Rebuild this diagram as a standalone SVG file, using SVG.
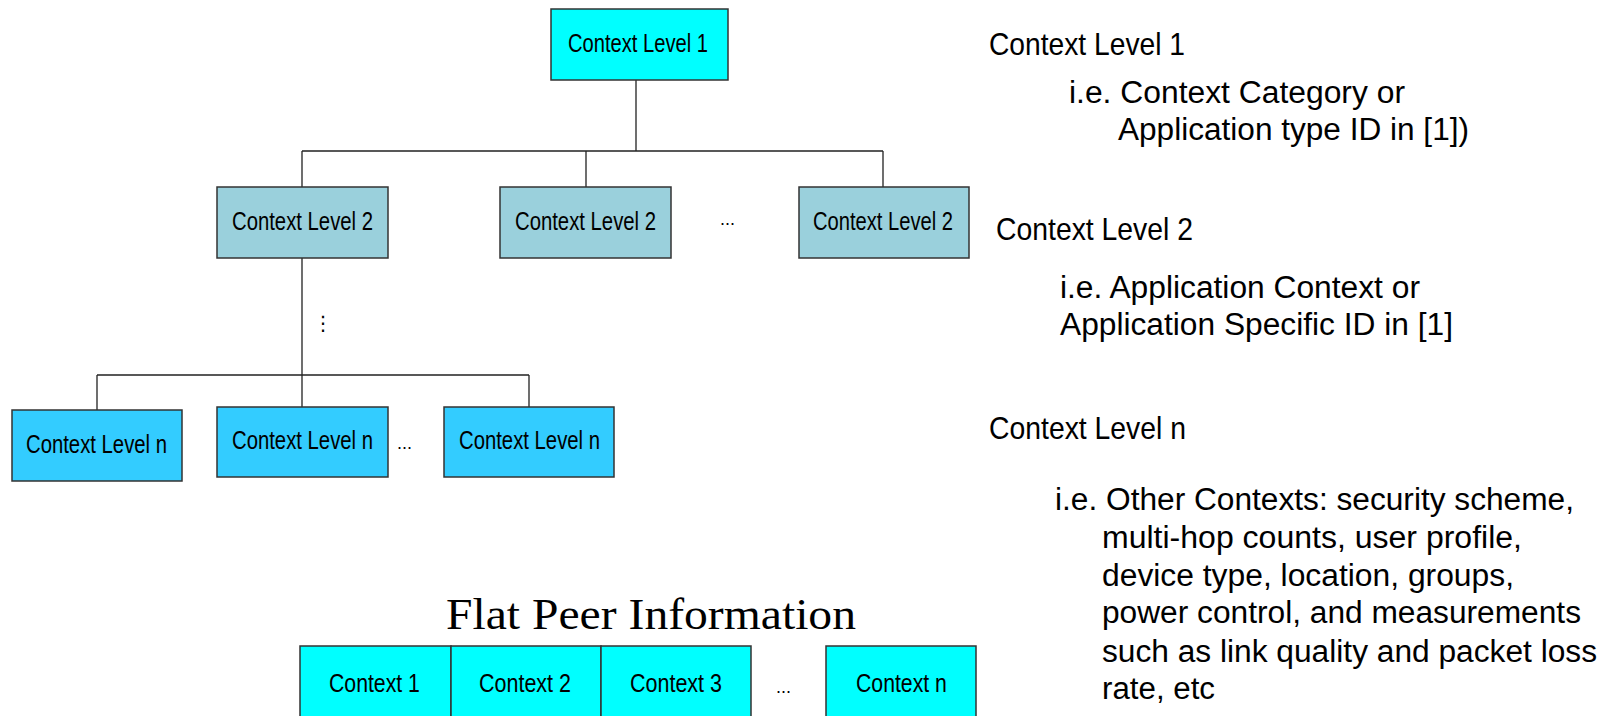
<svg xmlns="http://www.w3.org/2000/svg" width="1606" height="716" viewBox="0 0 1606 716">
<style>
.box{stroke:#333;stroke-width:1.5}
.l1{fill:#00FFFF}
.l2{fill:#9AD0DC}
.ln{fill:#33CCFF}
.lbl{font-family:"Liberation Sans",Arial,sans-serif;font-size:25px;fill:#000}
.side{font-family:"Liberation Sans",Arial,sans-serif;font-size:31px;fill:#000}
.head{font-family:"Liberation Sans",Arial,sans-serif;font-size:32px;fill:#000}
.dots{font-family:"Liberation Sans",Arial,sans-serif;font-size:18px;fill:#000}
.title{font-family:"Liberation Serif","Times New Roman",serif;font-size:44px;fill:#000}
.conn{stroke:#222;stroke-width:1.3;fill:none}
</style>
<g id="connectors">
<path class="conn" d="M636 80V151M302 151H883M302 151V187M586 151V187M883 151V187"/>
<path class="conn" d="M302 258V407M97 375H529M97 375V410M529 375V407"/>
</g>
<g id="level1">
<rect class="box l1" x="551" y="9" width="177" height="71"/>
<text class="lbl" transform="translate(568,52) scale(0.806,1)">Context Level 1</text>
</g>
<g id="level2a">
<rect class="box l2" x="217" y="187" width="171" height="71"/>
<text class="lbl" transform="translate(232,230) scale(0.812,1)">Context Level 2</text>
</g>
<g id="level2b">
<rect class="box l2" x="500" y="187" width="171" height="71"/>
<text class="lbl" transform="translate(515,230) scale(0.812,1)">Context Level 2</text>
</g>
<g id="level2-dots"><text class="dots" x="720" y="225">...</text></g>
<g id="level2c">
<rect class="box l2" x="799" y="187" width="170" height="71"/>
<text class="lbl" transform="translate(813,230) scale(0.806,1)">Context Level 2</text>
</g>
<g id="vdots">
<text x="323" y="330" font-family="DejaVu Sans,sans-serif" font-size="20" text-anchor="middle">⋮</text>
</g>
<g id="levelna">
<rect class="box ln" x="12" y="410" width="170" height="71"/>
<text class="lbl" transform="translate(26,453) scale(0.812,1)">Context Level n</text>
</g>
<g id="levelnb">
<rect class="box ln" x="217" y="407" width="171" height="70"/>
<text class="lbl" transform="translate(232,449) scale(0.812,1)">Context Level n</text>
</g>
<g id="leveln-dots"><text class="dots" x="397" y="449">...</text></g>
<g id="levelnc">
<rect class="box ln" x="444" y="407" width="170" height="70"/>
<text class="lbl" transform="translate(459,449) scale(0.812,1)">Context Level n</text>
</g>
<g id="flat">
<text class="title" x="446" y="629" textLength="410" lengthAdjust="spacingAndGlyphs">Flat Peer Information</text>
<g id="ctx1"><rect class="box l1" x="300" y="646" width="151" height="75"/>
<text class="lbl" transform="translate(329,692) scale(0.85,1)">Context 1</text></g>
<g id="ctx2"><rect class="box l1" x="451" y="646" width="150" height="75"/>
<text class="lbl" transform="translate(479,692) scale(0.86,1)">Context 2</text></g>
<g id="ctx3"><rect class="box l1" x="601" y="646" width="150" height="75"/>
<text class="lbl" transform="translate(630,692) scale(0.86,1)">Context 3</text></g>
<g id="flat-dots"><text class="dots" x="776" y="693">...</text></g>
<g id="ctxn"><rect class="box l1" x="826" y="646" width="150" height="75"/>
<text class="lbl" transform="translate(856,692) scale(0.85,1)">Context n</text></g>
</g>
<g id="legend">
<text class="head" x="989" y="55" textLength="196" lengthAdjust="spacingAndGlyphs">Context Level 1</text>
<text class="side" x="1069" y="103" textLength="336" lengthAdjust="spacingAndGlyphs">i.e. Context Category or</text>
<text class="side" x="1118" y="140" textLength="351" lengthAdjust="spacingAndGlyphs">Application type ID in [1])</text>
<text class="head" x="996" y="240" textLength="197" lengthAdjust="spacingAndGlyphs">Context Level 2</text>
<text class="side" x="1060" y="298" textLength="360" lengthAdjust="spacingAndGlyphs">i.e. Application Context or</text>
<text class="side" x="1060" y="335" textLength="393" lengthAdjust="spacingAndGlyphs">Application Specific ID in [1]</text>
<text class="head" x="989" y="439" textLength="197" lengthAdjust="spacingAndGlyphs">Context Level n</text>
<text class="side" x="1055" y="510" textLength="519" lengthAdjust="spacingAndGlyphs">i.e. Other Contexts: security scheme,</text>
<text class="side" x="1102" y="548" textLength="420" lengthAdjust="spacingAndGlyphs">multi-hop counts, user profile,</text>
<text class="side" x="1102" y="586" textLength="412" lengthAdjust="spacingAndGlyphs">device type, location, groups,</text>
<text class="side" x="1102" y="623" textLength="479" lengthAdjust="spacingAndGlyphs">power control, and measurements</text>
<text class="side" x="1102" y="662" textLength="495" lengthAdjust="spacingAndGlyphs">such as link quality and packet loss</text>
<text class="side" x="1102" y="699" textLength="113" lengthAdjust="spacingAndGlyphs">rate, etc</text>
</g>
</svg>
